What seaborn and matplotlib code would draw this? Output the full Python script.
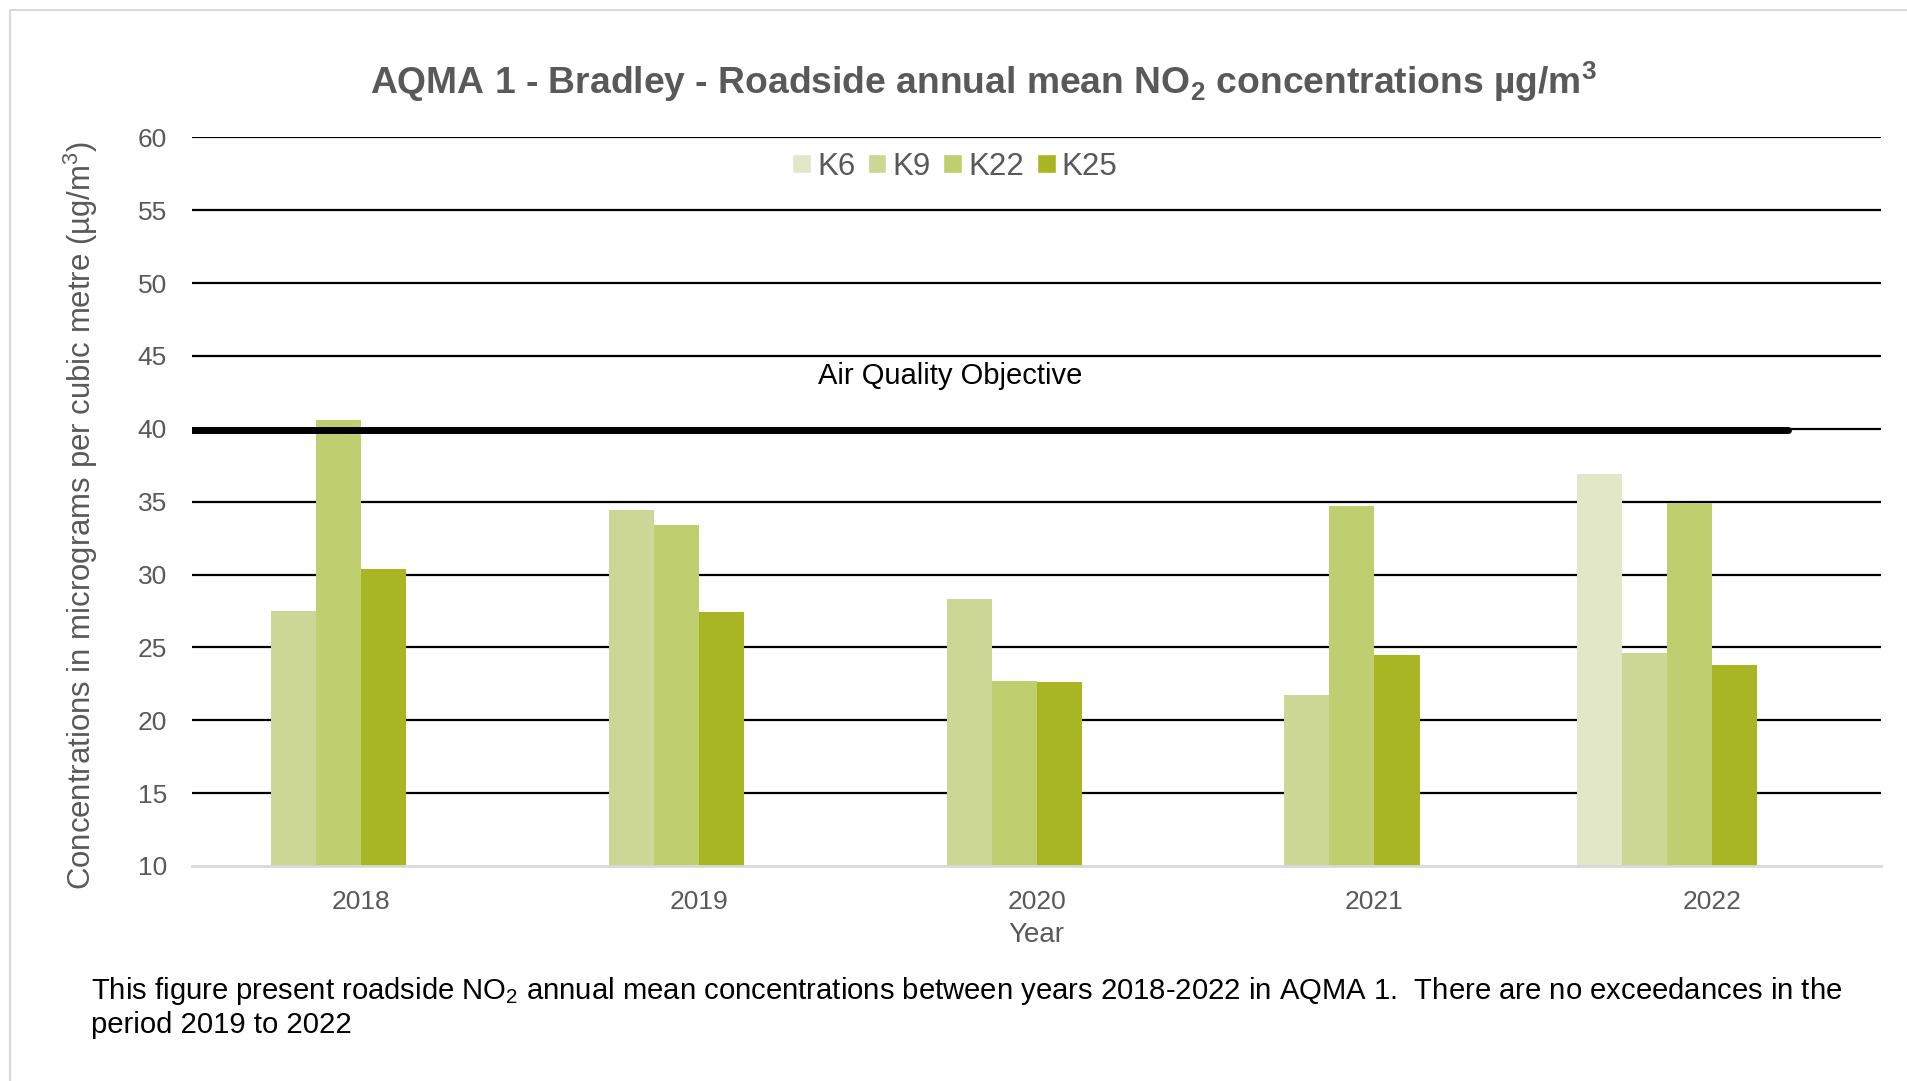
import numpy as np
import pandas as pd
import seaborn as sns
import matplotlib.pyplot as plt
from matplotlib.patches import Patch, Rectangle

years = ['2018', '2019', '2020', '2021', '2022']
k6 = [np.nan, np.nan, np.nan, np.nan, 36.9]
k9 = [27.5, 34.4, 28.3, 21.7, 24.6]
k22 = [40.6, 33.4, 22.7, 34.7, 34.9]
k25 = [30.4, 27.4, 22.6, 24.5, 23.8]
sites = ['K6', 'K9', 'K22', 'K25']
colors = ['#E2E7C7', '#CCD795', '#BFCE6F', '#A8B624']
objective = 39.9

df = pd.DataFrame({'Year': years * 4,
                   'Site': np.repeat(sites, len(years)),
                   'Value': k6 + k9 + k22 + k25}).dropna()

# Excel leaves room for two empty series in each group
hue_order = sites + ['_e1', '_e2']
palette = dict(zip(hue_order, colors + ['white', 'white']))

sns.set_style('white')
plt.rcParams['font.family'] = ['Liberation Sans', 'DejaVu Sans']
plt.rcParams['mathtext.fontset'] = 'custom'
plt.rcParams['mathtext.rm'] = 'Liberation Sans'
plt.rcParams['mathtext.bf'] = 'Liberation Sans:bold'
grey = '#595959'

fig = plt.figure(figsize=(19.07, 10.81), dpi=100)
ax = fig.add_axes([0.1007, 0.1989, 0.8858, 0.674])
sns.barplot(data=df, x='Year', y='Value', hue='Site', order=years,
            hue_order=hue_order, palette=palette, width=0.8,
            legend=False, ax=ax, saturation=1, linewidth=0)

ax.set_xlim(-0.5, 4.5)
ax.set_ylim(10, 60)
ax.set_yticks(range(10, 61, 5))
ax.set_axisbelow(True)
ax.yaxis.grid(True, color='black', lw=1.6)
ax.yaxis.get_gridlines()[0].set_visible(False)
for s in ['top', 'right', 'left']:
    ax.spines[s].set_visible(False)
ax.spines['bottom'].set_color('#D9D9D9')
ax.spines['bottom'].set_linewidth(2)
ax.set_xticks(np.arange(-0.5, 5), minor=True)
ax.tick_params(axis='x', which='minor', length=8, color='#D9D9D9', width=1.5)
ax.tick_params(axis='x', which='major', length=0, pad=17, labelsize=19, labelcolor=grey)
ax.tick_params(axis='y', length=0, pad=18, labelsize=19, labelcolor=grey)

ax.axhline(objective, xmin=0, xmax=0.945, color='black', lw=5, zorder=5)
ax.text(1.745, 43.6, 'Air Quality Objective', ha='center', va='center',
        fontsize=21, color='black')

ax.set_xlabel('Year', fontsize=20, color=grey, labelpad=6)
ax.set_ylabel(r'Concentrations in micrograms per cubic metre (µg/m$^3$)',
              fontsize=22.4, color=grey)
ax.yaxis.set_label_coords(-0.0546, 0.481)

handles = [Patch(facecolor=c, label=s) for s, c in zip(sites, colors)]
ax.legend(handles=handles, loc='center', bbox_to_anchor=(0.4515, 0.96),
          ncol=4, frameon=False, fontsize=22.5, handlelength=0.6,
          handleheight=0.6, handletextpad=0.2, columnspacing=0.4,
          labelcolor=grey)

fig.text(0.5155, 0.9246,
         r'AQMA 1 - Bradley - Roadside annual mean NO$_\mathbf{2}$ concentrations µg/m$^\mathbf{3}$',
         ha='center', va='center', fontsize=26.8, fontweight='bold', color=grey)

fig.text(0.0477, 0.0685,
         'This figure present roadside NO$_2$ annual mean concentrations between years 2018-2022 in AQMA 1.  '
         'There are no exceedances in the\nperiod 2019 to 2022',
         ha='left', va='center', fontsize=21.1, color='black', linespacing=1.2)

fig.add_artist(Rectangle((0.0052, -0.1), 1.2, 1.0907, transform=fig.transFigure,
                         fill=False, edgecolor='#D9D9D9', lw=1.5))

fig.savefig('out.png', dpi=100)
